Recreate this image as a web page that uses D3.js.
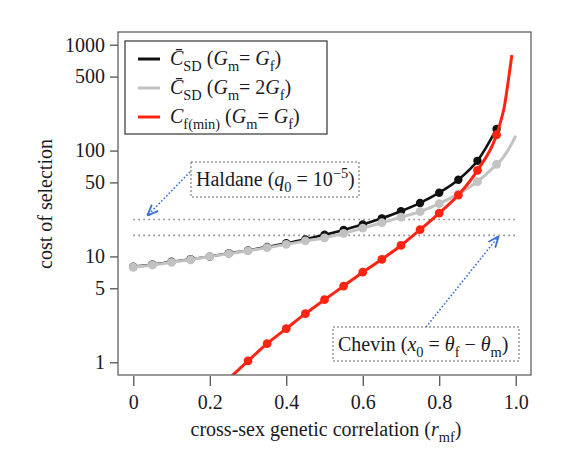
<!DOCTYPE html>
<html>
<head>
<meta charset="utf-8">
<script src="https://cdn.jsdelivr.net/npm/d3@7"></script>
<style>
  body { margin: 0; background: #fff; }
  svg text { font-family: "Liberation Serif", "Times New Roman", Times, serif; fill: #1a1a24; }
</style>
</head>
<body>
<svg id="chart" width="571" height="467"></svg>
<script>
// values
var rDots = [0, 0.05, 0.1, 0.15, 0.2, 0.25, 0.3, 0.35, 0.4, 0.45, 0.5, 0.55, 0.6, 0.65, 0.7, 0.75, 0.8, 0.85, 0.9, 0.95];
var csdEqual = [8.0, 8.4, 8.9, 9.4, 10.0, 10.7, 11.4, 12.3, 13.3, 14.5, 16.0, 17.8, 20.0, 22.9, 26.7, 32.0, 40.0, 53.0, 80.0, 160.0];
var csdDouble = [7.9, 8.3, 8.8, 9.3, 10.0, 10.6, 11.3, 12.1, 13.0, 14.0, 15.0, 16.5, 18.5, 20.8, 23.5, 26.5, 31.5, 39.0, 51.0, 74.0];
var rDoubleTail = [0.96, 0.97, 0.98, 0.99, 1.0];
var csdDoubleTail = [80, 89, 101, 117, 138];
var rRedDots = [0.3, 0.35, 0.4, 0.45, 0.5, 0.55, 0.6, 0.65, 0.7, 0.75, 0.8, 0.85, 0.9, 0.95];
var cfMin = [1.03, 1.5, 2.08, 2.88, 3.9, 5.25, 7.1, 9.4, 12.7, 17.9, 25.7, 38.0, 65.0, 141.0];
var rRedHead = [0.25];
var cfMinHead = [0.70];
var rRedTail = [0.96, 0.97, 0.98, 0.99];
var cfMinTail = [185, 257, 440, 800];
var haldaneLevel = 22.3;
var chevinLevel = 15.8;
var yTicks = [1, 5, 10, 50, 100, 500, 1000];
var xTicks = [0, 0.2, 0.4, 0.6, 0.8, 1.0];

var svg = d3.select("#chart");

var x = d3.scaleLinear().domain([-0.04, 1.04]).range([118, 531]);
var y = d3.scaleLog().domain([Math.pow(10, -0.12), Math.pow(10, 3.12)]).range([375, 32]);

svg.append("defs").append("clipPath").attr("id", "plotClip")
  .append("rect").attr("x", 118).attr("y", 32).attr("width", 413).attr("height", 343);

var marker = svg.select("defs").append("marker")
  .attr("id", "arrowHead")
  .attr("viewBox", "0 0 10 10")
  .attr("refX", 9).attr("refY", 5)
  .attr("markerWidth", 7).attr("markerHeight", 7)
  .attr("orient", "auto");
marker.append("path").attr("d", "M0,1 L10,5 L0,9").attr("fill", "none")
  .attr("stroke", "#3a6fd6").attr("stroke-width", 1.6);

// axes
var yAxis = svg.append("g").attr("transform", "translate(118,0)")
  .call(d3.axisLeft(y).tickValues(yTicks).tickFormat(d3.format("d")).tickSize(8).tickPadding(5));
var xAxis = svg.append("g").attr("transform", "translate(0,376)")
  .call(d3.axisBottom(x).tickValues(xTicks).tickFormat(function (d) { return d === 0 ? "0" : d.toFixed(1); }).tickSize(10).tickPadding(9));
[yAxis, xAxis].forEach(function (g) {
  g.attr("font-family", null).attr("font-size", null);
  g.select(".domain").remove();
  g.selectAll("line").attr("stroke", "#444").attr("stroke-width", 1.2);
  g.selectAll("text").style("font-size", "20px").attr("fill", "#1a1a24");
});

var plot = svg.append("g").attr("clip-path", "url(#plotClip)");

// reference levels
[haldaneLevel, chevinLevel].forEach(function (v) {
  plot.append("line")
    .attr("x1", x(0)).attr("x2", x(1))
    .attr("y1", y(v)).attr("y2", y(v))
    .attr("stroke", "#8a8a8a").attr("stroke-width", 1.6)
    .attr("stroke-dasharray", "1.6,3.4");
});

var line = d3.line()
  .x(function (d) { return x(d[0]); })
  .y(function (d) { return y(d[1]); })
  .curve(d3.curveMonotoneX);

function pairs(xs, ys) { return xs.map(function (v, i) { return [v, ys[i]]; }); }

var series = [
  { dots: pairs(rDots, csdEqual), path: pairs(rDots, csdEqual), color: "#111111", width: 2.6, r: 4.2 },
  { dots: pairs(rDots, csdDouble), path: pairs(rDots.concat(rDoubleTail), csdDouble.concat(csdDoubleTail)), color: "#c2c2c2", width: 3, r: 4.4 },
  { dots: pairs(rRedDots, cfMin), path: pairs(rRedHead.concat(rRedDots, rRedTail), cfMinHead.concat(cfMin, cfMinTail)), color: "#ff2412", width: 3, r: 4.4 }
];

series.forEach(function (s) {
  plot.append("path").datum(s.path)
    .attr("d", line)
    .attr("fill", "none")
    .attr("stroke", s.color)
    .attr("stroke-width", s.width);
  plot.selectAll(null).data(s.dots).enter().append("circle")
    .attr("cx", function (d) { return x(d[0]); })
    .attr("cy", function (d) { return y(d[1]); })
    .attr("r", s.r)
    .attr("fill", s.color);
});

// plot box
svg.append("rect").attr("x", 118).attr("y", 32).attr("width", 413).attr("height", 343)
  .attr("fill", "none").attr("stroke", "#555").attr("stroke-width", 1.2);

// rich text helper: parts = [text, style] where style is "", "i", "sub" or "sup"
function richText(g, xPos, yPos, parts, size, anchor) {
  var t = g.append("text").attr("x", xPos).attr("y", yPos).style("font-size", size + "px");
  if (anchor) t.attr("text-anchor", anchor);
  var shift = 0;
  parts.forEach(function (p) {
    var sp = t.append("tspan").text(p[0]);
    var want = 0;
    var mod = p[1] || "";
    if (mod === "sub") { want = size * 0.28; sp.style("font-size", (size * 0.72) + "px"); }
    if (mod === "sup") { want = -size * 0.38; sp.style("font-size", (size * 0.72) + "px"); }
    if (mod === "i") sp.style("font-style", "italic");
    if (want !== shift) { sp.attr("dy", want - shift); shift = want; }
  });
  return t;
}

// legend
var leg = svg.append("g");
leg.append("rect").attr("x", 125).attr("y", 41).attr("width", 202).attr("height", 93)
  .attr("fill", "#fff").attr("stroke", "#333").attr("stroke-width", 1.2);
var legendRows = [
  { color: "#111111", parts: [["C\u0304", "i"], ["SD", "sub"], [" (", ""], ["G", "i"], ["m", "sub"], ["= ", ""], ["G", "i"], ["f", "sub"], [")", ""]] },
  { color: "#c2c2c2", parts: [["C\u0304", "i"], ["SD", "sub"], [" (", ""], ["G", "i"], ["m", "sub"], ["= 2", ""], ["G", "i"], ["f", "sub"], [")", ""]] },
  { color: "#ff2412", parts: [["C", "i"], ["f(min)", "sub"], [" (", ""], ["G", "i"], ["m", "sub"], ["= ", ""], ["G", "i"], ["f", "sub"], [")", ""]] }
];
legendRows.forEach(function (row, i) {
  var cy = 59 + i * 29;
  leg.append("line").attr("x1", 138).attr("x2", 160).attr("y1", cy).attr("y2", cy)
    .attr("stroke", row.color).attr("stroke-width", 3);
  richText(leg, 170, cy + 6, row.parts, 20);
});

// annotations
function noteBox(bx, by, bw, bh) {
  svg.append("rect").attr("x", bx).attr("y", by).attr("width", bw).attr("height", bh)
    .attr("fill", "#fff").attr("stroke", "#666").attr("stroke-width", 1)
    .attr("stroke-dasharray", "2,2");
}
function arrow(x1, y1, x2, y2) {
  svg.append("line").attr("x1", x1).attr("y1", y1).attr("x2", x2).attr("y2", y2)
    .attr("stroke", "#3a6fd6").attr("stroke-width", 1.6)
    .attr("stroke-dasharray", "1.6,2")
    .attr("marker-end", "url(#arrowHead)");
}

arrow(190, 172, 148, 215);
noteBox(191, 162, 168, 35);
richText(svg, 196, 186, [["Haldane (", ""], ["q", "i"], ["0", "sub"], [" = 10", ""], ["\u22125", "sup"], [")", ""]], 20);

arrow(426, 327, 498, 237);
noteBox(333, 327, 186, 34);
richText(svg, 338, 351, [["Chevin (", ""], ["x", "i"], ["0", "sub"], [" = ", ""], ["\u03b8", "i"], ["f", "sub"], [" \u2212 ", ""], ["\u03b8", "i"], ["m", "sub"], [")", ""]], 20);

// axis titles
richText(svg, 326, 436, [["cross-sex genetic correlation (", ""], ["r", "i"], ["mf", "sub"], [")", ""]], 20, "middle");
svg.append("text")
  .attr("transform", "translate(52,204) rotate(-90)")
  .attr("text-anchor", "middle")
  .style("font-size", "20px")
  .text("cost of selection");
</script>
</body>
</html>
